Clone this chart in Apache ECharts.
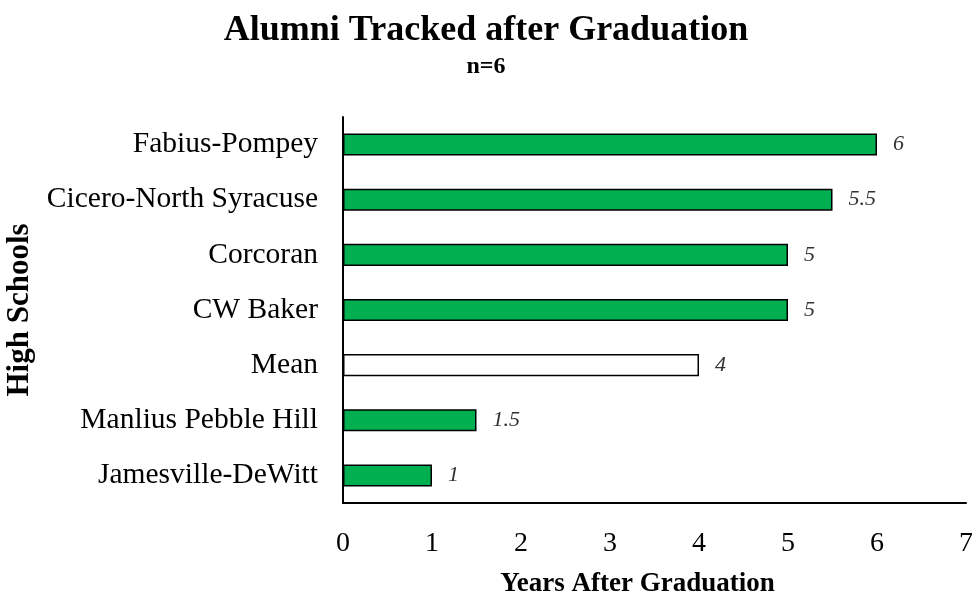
<!DOCTYPE html>
<html>
<head>
<meta charset="utf-8">
<script src="https://cdn.jsdelivr.net/npm/echarts@6/dist/echarts.min.js"></script>
<style>
  html, body { margin: 0; padding: 0; background: #fff; }
  #chart { width: 972px; height: 600px; }
</style>
</head>
<body>
<div id="chart"></div>
<script>
// bottom to top
const schools = ['Jamesville-DeWitt', 'Manlius Pebble Hill', 'Mean', 'CW Baker', 'Corcoran', 'Cicero-North Syracuse', 'Fabius-Pompey']
const years = [1, 1.5, 4, 5, 5, 5.5, 6]
const xTicks = [0, 1, 2, 3, 4, 5, 6, 7]

const serif = '"Liberation Serif", "DejaVu Serif", serif'

const chart = echarts.init(document.getElementById('chart'))
chart.setOption({
    animation: false,
    title: {
        text: 'Alumni Tracked after Graduation',
        subtext: 'n=6',
        left: 'center',
        top: 8,
        itemGap: 6,
        textStyle: { fontFamily: serif, fontWeight: 'bold', fontSize: 36, color: '#000' },
        subtextStyle: { fontFamily: serif, fontWeight: 'bold', fontSize: 24, color: '#000' }
    },
    grid: {
        left: 343,
        right: 6,
        top: 117,
        bottom: 97,
        outerBoundsMode: 'none',
        containLabel: false
    },
    xAxis: {
        type: 'value',
        min: xTicks[0],
        max: xTicks[xTicks.length - 1],
        interval: 1,
        name: 'Years After Graduation',
        nameLocation: 'middle',
        nameGap: 68,
        nameTextStyle: { fontFamily: serif, fontWeight: 'bold', fontSize: 27, color: '#000', padding: [0, 34, 0, 0] },
        axisLine: { show: true, lineStyle: { color: '#000', width: 2 } },
        axisTick: { show: false },
        splitLine: { show: false },
        axisLabel: { fontFamily: serif, fontSize: 28, color: '#000', margin: 27 }
    },
    yAxis: {
        type: 'category',
        data: schools,
        name: 'High Schools',
        nameLocation: 'middle',
        nameGap: 305,
        nameRotate: 90,
        nameTextStyle: { fontFamily: serif, fontWeight: 'bold', fontSize: 31, color: '#000' },
        axisLine: { show: true, lineStyle: { color: '#000', width: 2 } },
        axisTick: { show: false },
        axisLabel: { fontFamily: serif, fontSize: 29.5, color: '#000', margin: 25 }
    },
    series: [
        {
            type: 'bar',
            barWidth: '40%',
            data: years.map((v, i) => ({
                value: v,
                itemStyle: schools[i] === 'Mean'
                    ? { color: '#fff', borderColor: '#000', borderWidth: 1.5 }
                    : { color: '#00B050', borderColor: '#000', borderWidth: 1.5 }
            })),
            label: {
                show: true,
                position: 'right',
                distance: 16,
                fontFamily: serif,
                fontStyle: 'italic',
                fontSize: 22,
                color: '#333'
            }
        }
    ]
})
</script>
</body>
</html>
